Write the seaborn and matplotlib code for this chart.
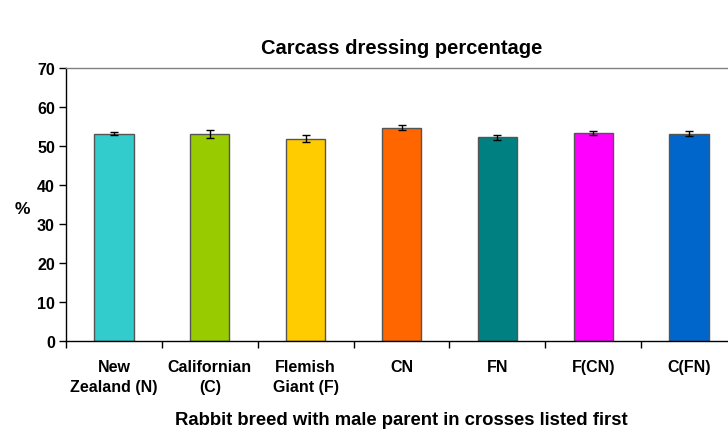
import matplotlib
matplotlib.use("Agg")
import matplotlib.pyplot as plt
import seaborn as sns
import pandas as pd
import numpy as np
from matplotlib.ticker import FixedLocator

breeds = ["New\nZealand (N)", "Californian\n(C)", "Flemish\nGiant (F)", "CN", "FN", "F(CN)", "C(FN)"]
dressing_pct = [53.2, 53.1, 51.8, 54.7, 52.2, 53.4, 53.2]
std_err = [0.5, 1.0, 0.9, 0.6, 0.7, 0.5, 0.6]
bar_colors = ["#33CCCC", "#99CC00", "#FFCC00", "#FF6600", "#008080", "#FF00FF", "#0066CC"]

sns.set_theme(style="white")
plt.rcParams["font.family"] = ["Liberation Sans", "DejaVu Sans"]
plt.rcParams["font.weight"] = "bold"
for key in ["text.color", "axes.labelcolor", "xtick.color", "ytick.color"]:
    plt.rcParams[key] = "black"

df = pd.DataFrame({"breed": breeds, "pct": dressing_pct})

fig = plt.figure(figsize=(7.28, 4.35), dpi=100)
ax = fig.add_axes([0.0907, 0.2138, 0.9217, 0.6276])

sns.barplot(data=df, x="breed", y="pct", hue="breed", palette=bar_colors,
            width=0.41, edgecolor="#555555", linewidth=1.0, legend=False,
            errorbar=None, ax=ax, saturation=1)
ax.errorbar(np.arange(len(breeds)), dressing_pct, yerr=std_err, fmt="none",
            ecolor="black", elinewidth=1.0, capsize=3, capthick=1.0)

ax.set_xlim(-0.5, len(breeds) - 0.5)
ax.set_ylim(0, 70)
ax.set_yticks(range(0, 71, 10))
ax.tick_params(axis="y", labelsize=11.5, length=5, width=1, direction="out", left=True, pad=3)
ax.tick_params(axis="x", which="major", length=0, labelsize=11.5, pad=13)
ax.xaxis.set_minor_locator(FixedLocator(np.arange(-0.5, len(breeds), 1.0)))
ax.tick_params(axis="x", which="minor", length=5, width=1, direction="out", bottom=True)
for lbl in ax.get_xticklabels() + ax.get_yticklabels():
    lbl.set_fontweight("bold")
    lbl.set_linespacing(1.4)

ax.spines["right"].set_visible(False)
ax.spines["top"].set_color("#808080")
ax.spines["top"].set_linewidth(1.0)
for side in ["left", "bottom"]:
    ax.spines[side].set_color("black")
    ax.spines[side].set_linewidth(1.0)

ax.set_ylabel("%", fontsize=12.5, fontweight="bold", rotation=0, va="center")
ax.yaxis.set_label_coords(-0.065, 0.485)
ax.set_xlabel("Rabbit breed with male parent in crosses listed first", fontsize=13.3,
              fontweight="bold", labelpad=12)
ax.set_title("Carcass dressing percentage", fontsize=14.5, fontweight="bold", pad=11)

fig.savefig("out.png", dpi=100)
